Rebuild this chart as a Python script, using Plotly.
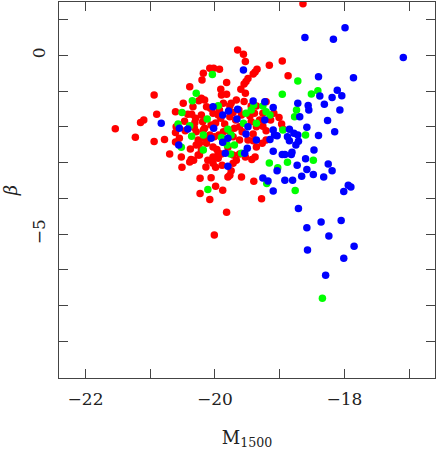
import plotly.graph_objects as go

# red sample
red_m = [-18.64, -19.65, -19.56, -19.53, -18.96, -19.16, -19.35, -19.38, -19.41, -18.87,
         -19.49, -19.52, -19.55, -20.18, -20.20, -20.08, -20.02, -19.93, -20.39, -19.53,
         -19.60, -19.91, -20.94, -20.21, -20.25, -19.82, -19.90, -19.82, -19.67, -19.75,
         -19.77, -19.55, -19.44, -19.36, -19.21, -20.49, -20.61, -20.90, -21.10, -21.15,
         -21.54, -21.23, -20.94, -20.78, -20.70, -20.51, -20.61, -20.46, -20.42, -20.36,
         -20.34, -20.47, -20.31, -20.19, -20.16, -20.32, -20.29, -20.38, -20.29, -20.24,
         -20.26, -20.16, -20.13, -20.33, -20.39, -20.26, -20.21, -20.37, -20.11, -20.03,
         -19.95, -19.90, -20.14, -19.99, -19.89, -19.77, -19.75, -19.80, -19.59, -19.40,
         -20.23, -20.06, -19.99, -19.88, -20.23, -20.08, -19.82, -20.01, -19.28, -20.03,
         -19.95, -19.93, -19.87, -19.77, -19.72, -19.63, -19.59, -19.46, -19.39, -19.26,
         -19.09, -19.01, -18.97, -18.95, -19.36, -19.26, -19.21, -19.41, -19.62, -19.70,
         -19.77, -19.87, -19.94, -20.01, -20.08, -20.18, -20.03, -19.88, -19.80, -19.72,
         -19.62, -19.41, -19.27, -19.21, -19.36, -19.97, -19.95, -20.03, -19.72, -19.62,
         -19.53, -19.43, -19.38, -20.24, -20.60, -20.06, -19.99, -19.91, -20.21, -20.30,
         -20.52, -20.55, -20.61, -19.68, -19.58, -19.49, -19.31, -19.14, -19.44, -20.07,
         -20.13, -20.16, -19.85, -19.72, -19.67]
red_beta = [1.44, 0.15, 0.03, -0.17, -0.16, -0.28, -0.39, -0.47, -0.52, -0.57,
            -0.65, -0.73, -0.80, -0.50, -0.69, -0.36, -0.36, -0.39, -0.88, -1.06,
            -0.95, -0.95, -1.11, -1.20, -1.27, -0.76, -1.11, -1.09, -1.25, -1.34,
            -1.42, -1.29, -1.42, -1.42, -1.30, -1.34, -1.58, -1.65, -1.81, -1.88,
            -2.05, -2.29, -2.41, -2.35, -2.76, -3.13, -2.16, -2.11, -1.65, -1.65,
            -1.44, -1.84, -1.88, -1.86, -2.04, -2.02, -2.14, -2.62, -2.51, -2.46,
            -2.37, -2.32, -2.46, -2.93, -2.98, -2.79, -2.65, -2.91, -2.93, -3.02,
            -2.88, -2.76, -3.12, -3.13, -3.07, -3.35, -3.23, -3.40, -3.40, -3.52,
            -3.44, -3.42, -3.66, -3.77, -3.86, -4.03, -4.39, -5.02, -4.01, -1.62,
            -1.67, -1.53, -1.34, -1.72, -1.60, -1.53, -1.67, -1.70, -1.62, -1.62,
            -1.62, -1.74, -1.92, -2.06, -2.00, -1.98, -2.11, -2.20, -2.00, -2.04,
            -2.14, -2.14, -2.23, -2.28, -2.23, -2.09, -2.56, -2.42, -2.57, -2.28,
            -2.37, -2.39, -2.46, -2.37, -2.56, -2.63, -2.74, -2.84, -3.02, -2.76,
            -2.84, -2.91, -2.84, -2.79, -2.00, -1.95, -1.89, -1.76, -1.67, -1.76,
            -2.84, -2.32, -2.42, -1.81, -2.14, -2.37, -1.81, -1.81, -1.86, -1.48,
            -1.44, -1.25, -1.92, -2.79, -2.93]

# green sample
green_m = [-20.04, -20.29, -20.35, -20.51, -19.95, -20.12, -20.57, -20.39, -20.36, -20.18,
           -20.52, -20.18, -19.80, -19.90, -19.75, -19.81, -19.70, -19.76, -19.59, -19.52,
           -19.44, -19.40, -19.36, -19.56, -19.21, -19.15, -19.26, -18.96, -18.72, -18.51,
           -18.41, -18.74, -18.77, -18.95, -18.60, -19.16, -18.88, -19.03, -19.20, -20.11,
           -18.76, -18.48, -18.34]
green_beta = [-0.54, -1.06, -1.27, -1.60, -1.41, -1.78, -1.92, -1.97, -2.26, -2.23,
              -2.57, -2.65, -2.07, -2.30, -2.23, -2.51, -2.51, -2.76, -2.74, -1.62,
              -1.53, -1.39, -1.90, -1.90, -1.58, -1.67, -1.42, -1.09, -0.72, -1.08,
              -0.99, -1.53, -1.72, -2.09, -2.23, -3.01, -2.99, -3.14, -3.58, -3.75,
              -3.78, -2.93, -6.79]

# blue sample
blue_m = [-18.61, -18.17, -17.99, -17.09, -18.40, -17.86, -18.11, -18.38, -18.19, -18.04,
          -18.72, -18.56, -18.31, -18.55, -18.07, -18.69, -18.26, -18.58, -18.85, -18.78,
          -18.72, -18.15, -18.40, -18.88, -18.85, -18.71, -18.75, -18.47, -18.81, -18.82,
          -18.92, -18.60, -18.25, -18.73, -18.19, -18.58, -18.48, -18.66, -18.32, -18.92,
          -18.80, -17.94, -17.90, -18.01, -18.71, -18.36, -18.05, -18.58, -18.24, -17.85,
          -18.57, -18.01, -18.29, -19.56, -20.03, -19.79, -19.65, -19.88, -19.66, -19.41,
          -19.23, -19.10, -19.23, -19.49, -19.52, -20.02, -20.06, -19.80, -19.88, -19.36,
          -19.08, -19.04, -19.15, -19.50, -19.54, -19.84, -19.80, -18.96, -19.10, -19.26,
          -19.18, -19.10, -19.04, -19.10, -20.83, -20.55, -20.42, -20.56]
blue_beta = [0.50, 0.45, 0.77, -0.06, -0.60, -0.63, -0.98, -1.14, -1.18, -1.13,
             -1.34, -1.40, -1.37, -1.53, -1.53, -1.72, -1.82, -2.01, -2.07, -2.18,
             -2.23, -2.14, -2.24, -2.28, -2.39, -2.40, -2.51, -2.65, -2.71, -2.77,
             -2.77, -2.89, -3.04, -3.07, -3.23, -3.19, -3.33, -3.38, -3.40, -3.49,
             -3.49, -3.63, -3.68, -3.81, -4.28, -4.66, -4.62, -4.82, -5.05, -5.34,
             -5.44, -5.67, -6.15, -0.41, -1.44, -1.56, -1.51, -1.67, -1.78, -1.28,
             -1.30, -1.46, -1.81, -2.00, -2.20, -2.04, -2.32, -2.32, -2.43, -2.37,
             -2.23, -2.25, -2.35, -2.60, -2.74, -2.74, -3.10, -2.77, -2.09, -3.43,
             -3.51, -3.79, -3.23, -2.68, -1.90, -2.04, -2.06, -2.51]

x_ticks = [-22, -21, -20, -19, -18, -17]
x_labels = ["\u221222", "", "\u221220", "", "\u221218", ""]
y_ticks = [1, 0, -1, -2, -3, -4, -5, -6, -7, -8]
y_labels = ["", "0", "", "", "", "", "\u22125", "", "", ""]

fig = go.Figure()
for xs, ys, col in [(red_m, red_beta, "#ff0000"), (green_m, green_beta, "#00ff00"), (blue_m, blue_beta, "#0000ff")]:
    fig.add_trace(go.Scatter(x=xs, y=ys, mode="markers", marker=dict(color=col, size=7.5, line=dict(width=0))))

axis_style = dict(showgrid=False, zeroline=False, showline=True, linecolor="#444", linewidth=1,
                  mirror="allticks", ticks="inside", ticklen=9, tickcolor="#444", tickwidth=1,
                  tickmode="array", tickfont=dict(family="DejaVu Serif", size=17, color="#222"))

fig.update_layout(
    width=436, height=452,
    margin=dict(l=59, r=1, t=2, b=74),
    paper_bgcolor="white", plot_bgcolor="white",
    showlegend=False,
    font=dict(family="DejaVu Serif", color="#222"),
)
fig.update_xaxes(range=[-22.41, -16.6], tickvals=x_ticks, ticktext=x_labels, ticklabelstandoff=6,
                 title=dict(text="M<sub>1500</sub>", font=dict(size=18), standoff=22), **axis_style)
fig.update_yaxes(range=[-9.02, 1.49], tickvals=y_ticks, ticktext=y_labels, tickangle=-90, ticklabelstandoff=6,
                 title=dict(text="<i>\u03b2</i>", font=dict(size=18), standoff=8), **axis_style)

# the page's default body margin would shift the figure, so drop it
fig.write_html("out.html", config={"displayModeBar": False},
               post_script="document.body.style.margin = '0';")
